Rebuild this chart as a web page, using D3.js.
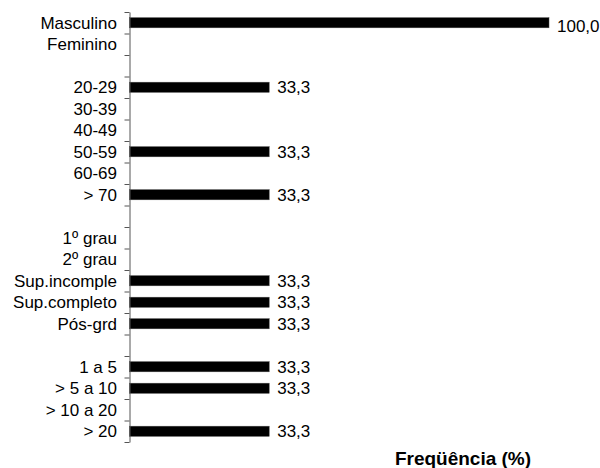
<!DOCTYPE html>
<html><head><meta charset="utf-8">
<script src="https://cdn.jsdelivr.net/npm/d3@7"></script>
<style>body{margin:0;background:#fff}svg{display:block}text{font-family:"Liberation Sans",Arial,sans-serif}</style>
</head><body><svg id="c" width="600" height="468"></svg>
<script>
const categories = ["Masculino","Feminino","","20-29","30-39","40-49","50-59","60-69","> 70","","1º grau","2º grau","Sup.incomple","Sup.completo","Pós-grd","","1 a 5","> 5 a 10","> 10 a 20","> 20"];
const values = [100,0,null,33.3,0,0,33.3,0,33.3,null,0,0,33.3,33.3,33.3,null,33.3,33.3,0,33.3];
const xTitle = "Freqüência (%)";

const svg = d3.select("#c");
const x0 = 129.5, x1 = 549, yTop = 12, yBot = 442;
const x = d3.scaleLinear().domain([0,100]).range([x0,x1]);
const y = d3.scaleBand().domain(d3.range(categories.length)).range([yTop,yBot]).paddingInner(0.53).paddingOuter(0.265);
const yIdx = d3.scaleLinear().domain([0,categories.length]).range([yTop,yBot]);
const fmt = v => d3.format(".1f")(v).replace(".", ",");

// bars
svg.append("g").selectAll("rect").data(values.map((v,i)=>({v,i})).filter(d=>d.v>0)).join("rect")
  .attr("x", x(0)).attr("y", d=>y(d.i)).attr("width", d=>x(d.v)-x(0)).attr("height", y.bandwidth())
  .attr("fill","#000").attr("stroke","#444").attr("stroke-width",0.5);

// value labels
svg.append("g").selectAll("text").data(values.map((v,i)=>({v,i})).filter(d=>d.v>0)).join("text")
  .attr("x", d=>x(d.v)+8).attr("y", d=>y(d.i)+y.bandwidth()/2 + (d.v>=100?3:0)).attr("dy","0.36em")
  .attr("font-size",17).attr("fill","#000").text(d=>fmt(d.v));

// axis
const ax = svg.append("g").attr("transform",`translate(${x0},0)`)
  .call(d3.axisLeft(yIdx).tickValues(d3.range(categories.length+1)).tickFormat("").tickSize(5).tickSizeOuter(0));
ax.selectAll("path,line").attr("stroke","#555").attr("stroke-width",1);

// category labels
svg.append("g").selectAll("text").data(categories).join("text")
  .attr("x", 117).attr("y",(d,i)=>y(i)+y.bandwidth()/2).attr("dy","0.36em")
  .attr("text-anchor","end").attr("font-size",17).attr("fill","#000").text(d=>d);

svg.append("text").attr("x",463).attr("y",465).attr("text-anchor","middle")
  .attr("font-size",19).attr("font-weight","bold").attr("fill","#000").text(xTitle);
</script></body></html>
